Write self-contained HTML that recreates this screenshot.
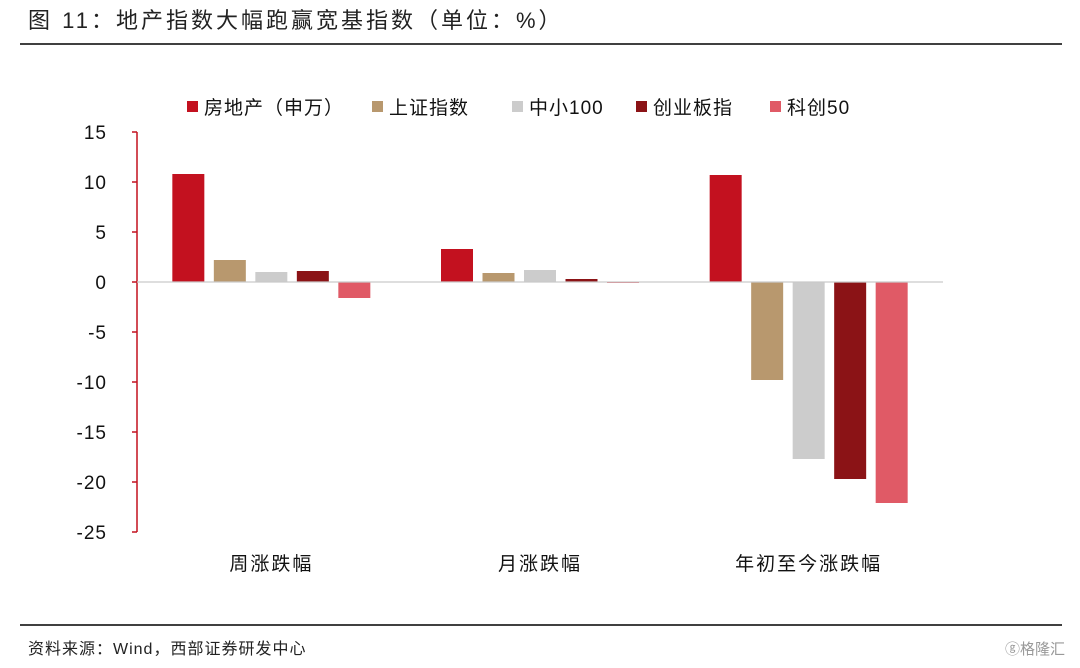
<!DOCTYPE html>
<html><head><meta charset="utf-8">
<style>
body{margin:0;background:#fff;width:1080px;height:663px;overflow:hidden;font-family:"Liberation Sans","Noto Sans CJK SC",sans-serif;}
svg text{font-family:"Liberation Sans","Noto Sans CJK SC",sans-serif;}
</style></head>
<body>
<svg id="chart" width="1080" height="663">
<text x="28" y="28" font-size="22" letter-spacing="3" fill="#222">图 11：地产指数大幅跑赢宽基指数（单位：%）</text>
<line x1="20" y1="44" x2="1062" y2="44" stroke="#000" stroke-width="1.5"/>
<line x1="20" y1="625" x2="1062" y2="625" stroke="#000" stroke-width="1.5"/>
<text x="28" y="654" font-size="16" letter-spacing="1" fill="#222">资料来源：Wind，西部证券研发中心</text>
<text x="1005" y="654" font-size="15" fill="#999">ⓖ格隆汇</text>
<g id="legend"></g>
<g id="plot"></g>
</svg>
<script>
const categories=["周涨跌幅","月涨跌幅","年初至今涨跌幅"];
const seriesNames=["房地产（申万）","上证指数","中小100","创业板指","科创50"];
const colors=["#c3111f","#b8986e","#cccccc","#8b1316","#e05a66"];
const realEstate=[10.8,3.3,10.7];
const shanghai=[2.2,0.9,-9.8];
const sme100=[1.0,1.2,-17.7];
const chinext=[1.1,0.3,-19.7];
const star50=[-1.6,-0.1,-22.1];
const yTicks=[15,10,5,0,-5,-10,-15,-20,-25];
const series=[realEstate,shanghai,sme100,chinext,star50];
const NS="http://www.w3.org/2000/svg";
const plot=document.getElementById('plot'),legend=document.getElementById('legend');
const x0=137,x1=943,yTop=132,yBot=532,vMax=15,vMin=-25;
const y=v=>yTop+(vMax-v)/(vMax-vMin)*(yBot-yTop);
const catW=(x1-x0)/categories.length;
const catC=i=>x0+catW*(i+0.5);
function mk(tag,attrs,parent){const e=document.createElementNS(NS,tag);for(const k in attrs)e.setAttribute(k,attrs[k]);parent.appendChild(e);return e;}
let ax=mk('line',{x1:x0,y1:y(vMax),x2:x0,y2:y(vMin),stroke:'#c3111f','stroke-width':1.5},plot);


yTicks.forEach(t=>{
 let tk=mk('line',{x1:x0-5,y1:y(t),x2:x0,y2:y(t),stroke:'#c3111f','stroke-width':1.5},plot);
 
 
 let tx=mk('text',{x:x0-30,y:y(t)+7,'font-size':19,'letter-spacing':1,'text-anchor':'end',fill:'#111'},plot);
 tx.textContent=t;
 
 
});
const bw=32,step=41.5;
series.forEach((s,j)=>{
 s.forEach((v,i)=>{
  const cx=catC(i)+(j-2)*step;
  const r=mk('rect',{x:cx-bw/2,y:Math.min(y(v),y(0)),width:bw,height:Math.max(Math.abs(y(v)-y(0)),1),fill:colors[j]},plot);
  
  
 });
});
let zl=mk('line',{x1:x0,y1:y(0),x2:x1,y2:y(0),stroke:'#c9c9c9','stroke-width':1.2},plot);


categories.forEach((c,i)=>{
 let t=mk('text',{x:catC(i),y:570,'font-size':19,'letter-spacing':2,'text-anchor':'middle',fill:'#111'},plot);
 t.textContent=c;
 
 
});
const lx=[187,372,512,636,770];
seriesNames.forEach((n,j)=>{
 let r=mk('rect',{x:lx[j],y:101,width:11,height:11,fill:colors[j]},legend);
 
 
 let t=mk('text',{x:lx[j]+17,y:114,'font-size':19,'letter-spacing':1,fill:'#111'},legend);
 t.textContent=n;
 
 
});
</script>
</body></html>
